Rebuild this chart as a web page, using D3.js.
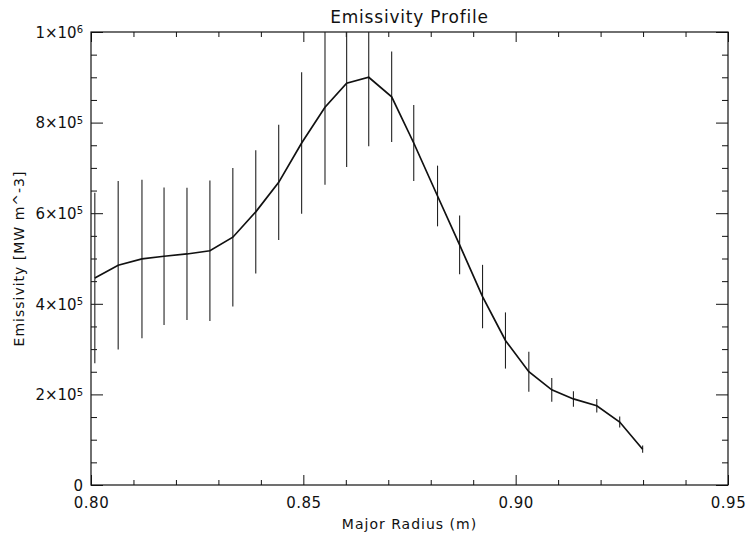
<!DOCTYPE html>
<html>
<head>
<meta charset="utf-8">
<script src="https://cdn.jsdelivr.net/npm/d3@7"></script>
<style>
  body { margin: 0; background: #fff; }
  text { font-family: "DejaVu Sans", sans-serif; fill: #111; }
</style>
</head>
<body>
<div id="chart"></div>
<script>
const width = 751;
const height = 540;
const margin = {top: 32, right: 23, bottom: 55, left: 91};

// major radius (m)
const radius = [0.8009, 0.8064, 0.8120, 0.8172, 0.8226, 0.8280, 0.8334, 0.8388, 0.8442, 0.8496,
  0.8551, 0.8602, 0.8654, 0.8708, 0.8760, 0.8816, 0.8868, 0.8922, 0.8976, 0.9031,
  0.9085, 0.9136, 0.9191, 0.9245, 0.9299];
// emissivity (MW m^-3)
const emissivity = [457000, 485000, 499000, 505000, 510000, 517000, 547000, 603000, 668000, 755000,
  834000, 887000, 900000, 857000, 755000, 638000, 530000, 416000, 319000, 250000,
  210000, 190000, 175000, 139000, 79000];
// half length of the error bars
const errors = [188000, 186000, 175000, 152000, 146000, 155000, 153000, 136000, 127000, 156000,
  171000, 185000, 152000, 100000, 84000, 67000, 65000, 70000, 62000, 44000,
  26000, 17000, 15000, 12000, 8000];

const xMajor = [0.80, 0.85, 0.90, 0.95];
const xMinor = [0.81, 0.82, 0.83, 0.84, 0.86, 0.87, 0.88, 0.89, 0.91, 0.92, 0.93, 0.94];
const yMajor = [0, 200000, 400000, 600000, 800000, 1000000];
const yMinor = [50000, 100000, 150000, 250000, 300000, 350000, 450000, 500000, 550000,
  650000, 700000, 750000, 850000, 900000, 950000];

const data = radius.map((r, i) => ({r: r, e: emissivity[i], err: errors[i]}));

const svg = d3.select("#chart")
    .append("svg")
    .attr("width", width)
    .attr("height", height);

const x = d3.scaleLinear().domain([0.80, 0.95]).range([margin.left, width - margin.right]);
const y = d3.scaleLinear().domain([0, 1000000]).range([height - margin.bottom, margin.top]);

const x0 = x.range()[0], x1 = x.range()[1];
const y0 = y.range()[0], y1 = y.range()[1];

// ticks pointing inward on all four sides
const addTicks = (axis, transform) => {
  const g = svg.append("g").attr("transform", transform).call(axis);
  g.select(".domain").remove();
  g.selectAll(".tick line").attr("stroke", "#111").attr("stroke-width", 1);
  return g;
};

addTicks(d3.axisBottom(x).tickValues(xMinor).tickSize(-5).tickFormat(""), `translate(0,${y0})`);
addTicks(d3.axisTop(x).tickValues(xMinor).tickSize(-5).tickFormat(""), `translate(0,${y1})`);
addTicks(d3.axisTop(x).tickValues(xMajor).tickSize(-10).tickFormat(""), `translate(0,${y1})`);
const gx = addTicks(d3.axisBottom(x).tickValues(xMajor).tickSize(-10).tickPadding(8)
    .tickFormat(d3.format(".2f")), `translate(0,${y0})`);
gx.selectAll("text").attr("font-size", 15).attr("dy", "1em").attr("letter-spacing", 0.5);

addTicks(d3.axisLeft(y).tickValues(yMinor).tickSize(-6).tickFormat(""), `translate(${x0},0)`);
addTicks(d3.axisRight(y).tickValues(yMinor).tickSize(-6).tickFormat(""), `translate(${x1},0)`);
addTicks(d3.axisRight(y).tickValues(yMajor).tickSize(-12).tickFormat(""), `translate(${x1},0)`);
const gy = addTicks(d3.axisLeft(y).tickValues(yMajor).tickSize(-12).tickPadding(8).tickFormat(""),
    `translate(${x0},0)`);

gy.selectAll(".tick text")
    .attr("font-size", 15)
    .attr("dy", "0.35em")
    .each(function (d) {
      const t = d3.select(this);
      if (d === 0) { t.text("0"); return; }
      const exp = Math.floor(Math.log10(d));
      const mant = Math.round(d / Math.pow(10, exp));
      t.append("tspan").text(mant + "\u00d710");
      t.append("tspan").attr("dy", "-0.45em").attr("font-size", 10).text(exp);
    });

// frame
svg.append("rect")
    .attr("x", x0).attr("y", y1)
    .attr("width", x1 - x0).attr("height", y0 - y1)
    .attr("fill", "none").attr("stroke", "#111").attr("stroke-width", 1.2);

svg.append("clipPath").attr("id", "plot-clip")
  .append("rect")
    .attr("x", x0).attr("y", y1)
    .attr("width", x1 - x0).attr("height", y0 - y1);

const plot = svg.append("g").attr("clip-path", "url(#plot-clip)");

plot.selectAll("line.err")
    .data(data)
    .join("line")
    .attr("class", "err")
    .attr("x1", d => x(d.r)).attr("x2", d => x(d.r))
    .attr("y1", d => y(d.e - d.err)).attr("y2", d => y(d.e + d.err))
    .attr("stroke", "#222").attr("stroke-width", 1.1);

const line = d3.line().x(d => x(d.r)).y(d => y(d.e));

plot.append("path")
    .datum(data)
    .attr("d", line)
    .attr("fill", "none")
    .attr("stroke", "#111")
    .attr("stroke-width", 1.7);

// labels
svg.append("text")
    .attr("x", (x0 + x1) / 2).attr("y", 23)
    .attr("text-anchor", "middle").attr("font-size", 17).attr("letter-spacing", 0.8)
    .text("Emissivity Profile");

svg.append("text")
    .attr("x", (x0 + x1) / 2).attr("y", 529)
    .attr("text-anchor", "middle").attr("font-size", 14).attr("letter-spacing", 1)
    .text("Major Radius (m)");

svg.append("text")
    .attr("transform", `translate(24,${(y0 + y1) / 2}) rotate(-90)`)
    .attr("text-anchor", "middle").attr("font-size", 14).attr("letter-spacing", 1)
    .text("Emissivity [MW m^-3]");
</script>
</body>
</html>
